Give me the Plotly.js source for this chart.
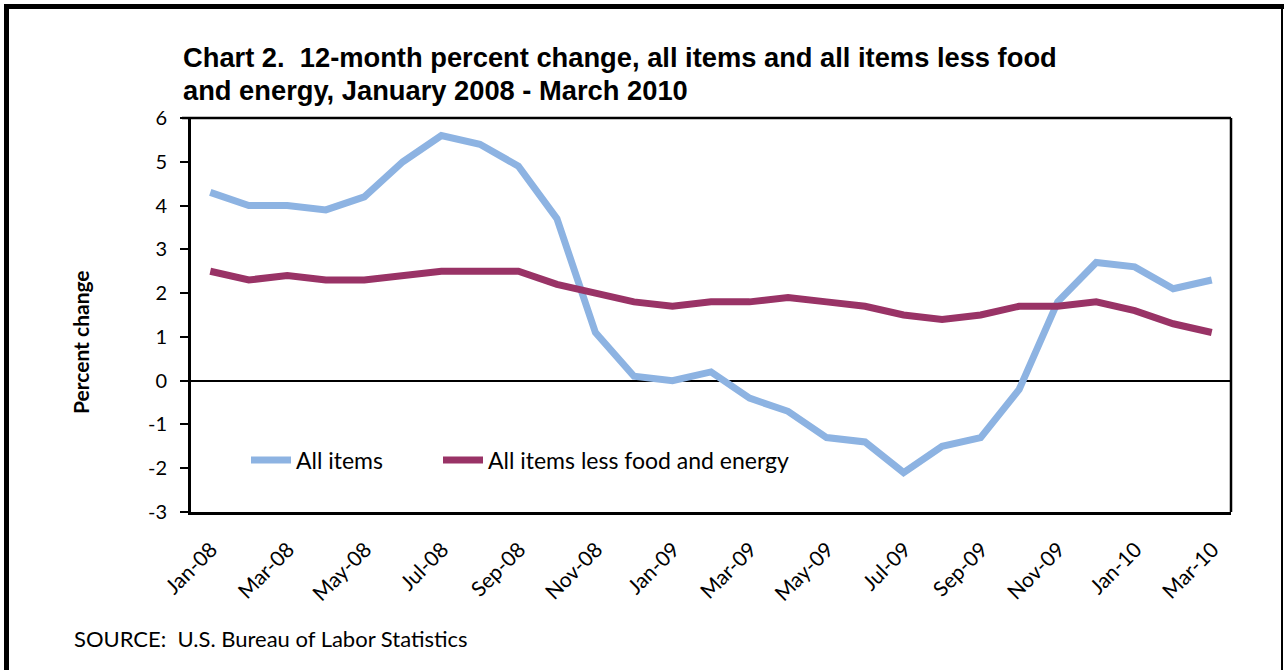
<!DOCTYPE html>
<html>
<head>
<meta charset="utf-8">
<script src="https://cdn.plot.ly/plotly-3.0.1.min.js"></script>
<style>
html,body{margin:0;padding:0;background:#fff;}
#chart{width:1284px;height:670px;}
</style>
</head>
<body>
<div id="chart"></div>
<script>
var months = ["Jan-08","Feb-08","Mar-08","Apr-08","May-08","Jun-08","Jul-08","Aug-08","Sep-08","Oct-08","Nov-08","Dec-08",
              "Jan-09","Feb-09","Mar-09","Apr-09","May-09","Jun-09","Jul-09","Aug-09","Sep-09","Oct-09","Nov-09","Dec-09",
              "Jan-10","Feb-10","Mar-10"];
var allItems = [4.3,4.0,4.0,3.9,4.2,5.0,5.6,5.4,4.9,3.7,1.1,0.1,
                0.0,0.2,-0.4,-0.7,-1.3,-1.4,-2.1,-1.5,-1.3,-0.2,1.8,2.7,
                2.6,2.1,2.3];
var core = [2.5,2.3,2.4,2.3,2.3,2.4,2.5,2.5,2.5,2.2,2.0,1.8,
            1.7,1.8,1.8,1.9,1.8,1.7,1.5,1.4,1.5,1.7,1.7,1.8,
            1.6,1.3,1.1];
var tickLabels = ["Jan-08","Mar-08","May-08","Jul-08","Sep-08","Nov-08","Jan-09","Mar-09","May-09","Jul-09","Sep-09","Nov-09","Jan-10","Mar-10"];
var yTicks = [-3,-2,-1,0,1,2,3,4,5,6];
var yTickText = ["-3","-2","-1","0","1","2","3","4","5","6"];

var L = 191, R = 1231, T = 118, B = 512;
function px(x){ return (x - L) / (R - L); }
function py(y){ return (B - y) / (B - T); }

var bodyFont = "Lato, 'Open Sans', sans-serif";
var legendFont = {family: bodyFont, size: 23, color: "#000"};

var traces = [
  {x: months, y: allItems, name: "All items", type: "scatter", mode: "lines",
   line: {color: "#8DB3E2", width: 7}, legend: "legend"},
  {x: months, y: core, name: "All items less food and energy", type: "scatter", mode: "lines",
   line: {color: "#993366", width: 7}, legend: "legend2"}
];

var layout = {
  width: 1284, height: 670,
  margin: {l: L, r: 1284 - R, t: T, b: 670 - B},
  paper_bgcolor: "#fff", plot_bgcolor: "#fff",
  showlegend: true,
  legend: {orientation: "h", x: px(246), y: py(460), xanchor: "left", yanchor: "middle",
           font: legendFont, bgcolor: "rgba(0,0,0,0)", itemwidth: 40},
  legend2: {orientation: "h", x: px(438), y: py(460), xanchor: "left", yanchor: "middle",
           font: legendFont, bgcolor: "rgba(0,0,0,0)", itemwidth: 40},
  xaxis: {
    type: "category", range: [-0.5, 26.5],
    tickvals: tickLabels, ticktext: tickLabels, tickangle: -45,
    ticks: "", showgrid: false, zeroline: false,
    showline: true, linecolor: "#000", linewidth: 3, mirror: false,
    tickfont: {family: bodyFont, size: 21, color: "#000"}, ticklabelstandoff: 14, ticklabelshift: 1
  },
  yaxis: {
    range: [-3, 6], tickvals: yTicks, ticktext: yTickText,
    ticks: "outside", ticklen: 8, tickwidth: 2, tickcolor: "#000",
    showgrid: false, zeroline: true, zerolinecolor: "#000", zerolinewidth: 2,
    showline: true, linecolor: "#000", linewidth: 3,
    tickfont: {family: bodyFont, size: 20, color: "#000"}, ticklabelstandoff: 9
  },
  shapes: [
    {type: "line", xref: "paper", yref: "paper", x0: px(182), x1: 1, y0: 1, y1: 1, line: {color: "#000", width: 2.5}},
    {type: "line", xref: "paper", yref: "paper", x0: 1, x1: 1, y0: 0, y1: 1, line: {color: "#000", width: 2.5}},
    {type: "line", xref: "paper", yref: "paper", x0: px(4), x1: px(1284), y0: py(6.5), y1: py(6.5), line: {color: "#000", width: 5}},
    {type: "line", xref: "paper", yref: "paper", x0: px(6.5), x1: px(6.5), y0: py(4), y1: py(672), line: {color: "#000", width: 5}},
    {type: "line", xref: "paper", yref: "paper", x0: px(1282), x1: px(1282), y0: py(6), y1: py(672), line: {color: "#000", width: 2}}
  ],
  annotations: [
    {xref: "paper", yref: "paper", x: px(181), y: py(58), xanchor: "left", yanchor: "middle", align: "left", showarrow: false,
     text: "<b>Chart 2.  12-month percent change, all items and all items less food</b>",
     font: {family: "'Liberation Sans', Arial, sans-serif", size: 27.3, color: "#000"}},
    {xref: "paper", yref: "paper", x: px(181), y: py(90), xanchor: "left", yanchor: "middle", align: "left", showarrow: false,
     text: "<b>and energy, January 2008 - March 2010</b>",
     font: {family: "'Liberation Sans', Arial, sans-serif", size: 27.3, color: "#000"}},
    {xref: "paper", yref: "paper", x: px(80), y: py(342), xanchor: "center", yanchor: "middle", showarrow: false,
     textangle: -90, text: "<b>Percent change</b>",
     font: {family: bodyFont, size: 21, color: "#000"}},
    {xref: "paper", yref: "paper", x: px(72), y: py(638), xanchor: "left", yanchor: "middle", showarrow: false,
     text: "SOURCE:  U.S. Bureau of Labor Statistics",
     font: {family: bodyFont, size: 22, color: "#000"}}
  ]
};

Plotly.newPlot("chart", traces, layout, {displayModeBar: false, staticPlot: true});
</script>
</body>
</html>
